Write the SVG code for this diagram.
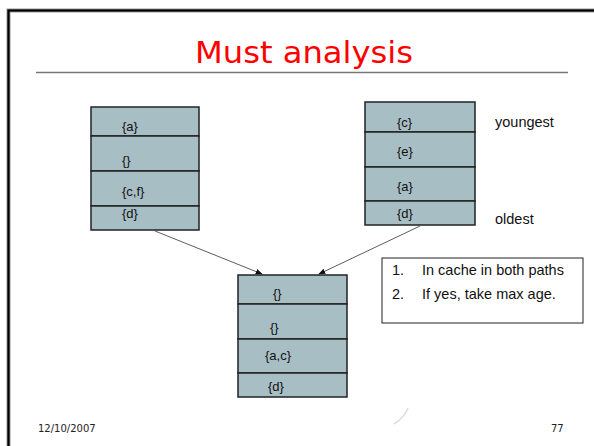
<svg xmlns="http://www.w3.org/2000/svg" width="594" height="446" viewBox="0 0 594 446">
  <defs>
    <style>
      .cell { fill: #a8bec5; stroke: #222; stroke-width: 1.5; }
      .lbl { font-family: "Liberation Sans", Arial, sans-serif; font-size: 13px; fill: #111; }
      .note { font-family: "Liberation Sans", Arial, sans-serif; font-size: 14.5px; fill: #111; }
      .foot { font-family: "DejaVu Sans", Verdana, sans-serif; font-size: 10px; fill: #222; }
      .edge { stroke: #333; stroke-width: 0.8; fill: none; marker-end: url(#arr); }
    </style>
    <marker id="arr" viewBox="0 0 10 10" refX="9" refY="5" markerWidth="7" markerHeight="7" orient="auto" markerUnits="userSpaceOnUse">
      <path d="M0,1 L10,5 L0,9 z" fill="#111"/>
    </marker>
  </defs>

  <rect width="594" height="446" fill="#fff"/>

  <!-- slide frame -->
  <rect x="8.5" y="10.5" width="600" height="450" fill="none" stroke="#999" stroke-width="4"/>
  <rect x="8.5" y="10.5" width="600" height="450" fill="none" stroke="#000" stroke-width="2.2"/>

  <!-- title -->
  <text x="304" y="63" text-anchor="middle" font-family="DejaVu Sans, Verdana, sans-serif" font-size="31" fill="#ff0000" textLength="218" lengthAdjust="spacingAndGlyphs">Must analysis</text>
  <line x1="36" y1="72.5" x2="568" y2="72.5" stroke="#777" stroke-width="1.5"/>

  <!-- left cache state -->
  <g id="left-state">
    <rect class="cell" x="91" y="107" width="108" height="29"/>
    <rect class="cell" x="91" y="136" width="108" height="35"/>
    <rect class="cell" x="91" y="171" width="108" height="35"/>
    <rect class="cell" x="91" y="206" width="108" height="24"/>
    <text class="lbl" x="122" y="131">{a}</text>
    <text class="lbl" x="122" y="165">{}</text>
    <text class="lbl" x="122" y="196">{c,f}</text>
    <text class="lbl" x="122" y="218">{d}</text>
  </g>

  <!-- right cache state -->
  <g id="right-state">
    <rect class="cell" x="365" y="102" width="110" height="30"/>
    <rect class="cell" x="365" y="132" width="110" height="35"/>
    <rect class="cell" x="365" y="167" width="110" height="34"/>
    <rect class="cell" x="365" y="201" width="110" height="24"/>
    <text class="lbl" x="397" y="127">{c}</text>
    <text class="lbl" x="397" y="156">{e}</text>
    <text class="lbl" x="397" y="191">{a}</text>
    <text class="lbl" x="397" y="218">{d}</text>
  </g>

  <g id="age-labels">
    <text class="note" x="495" y="127">youngest</text>
    <text class="note" x="495" y="224">oldest</text>
  </g>

  <!-- joined cache state -->
  <g id="joined-state">
    <rect class="cell" x="238" y="275" width="109" height="29"/>
    <rect class="cell" x="238" y="304" width="109" height="35"/>
    <rect class="cell" x="238" y="339" width="109" height="34"/>
    <rect class="cell" x="238" y="373" width="109" height="24"/>
    <text class="lbl" x="273" y="298">{}</text>
    <text class="lbl" x="270" y="332">{}</text>
    <text class="lbl" x="265" y="360">{a,c}</text>
    <text class="lbl" x="268" y="391">{d}</text>
  </g>

  <!-- rules -->
  <g id="rules">
    <rect x="382" y="258" width="201" height="65" fill="#fff" stroke="#222" stroke-width="1"/>
    <text class="note" x="392" y="275">1.</text>
    <text class="note" x="422" y="275">In cache in both paths</text>
    <text class="note" x="392" y="299">2.</text>
    <text class="note" x="422" y="299">If yes, take max age.</text>
  </g>

  <!-- connectors -->
  <g id="connectors">
    <line class="edge" x1="155" y1="231" x2="262" y2="274"/>
    <line class="edge" x1="420" y1="226" x2="319" y2="274"/>
  </g>

  <!-- footer -->
  <path d="M408,408 Q404,418 394,424" fill="none" stroke="#ddd" stroke-width="1.5"/>
  <text class="foot" x="38" y="432">12/10/2007</text>
  <text class="foot" x="551" y="432">77</text>
</svg>
